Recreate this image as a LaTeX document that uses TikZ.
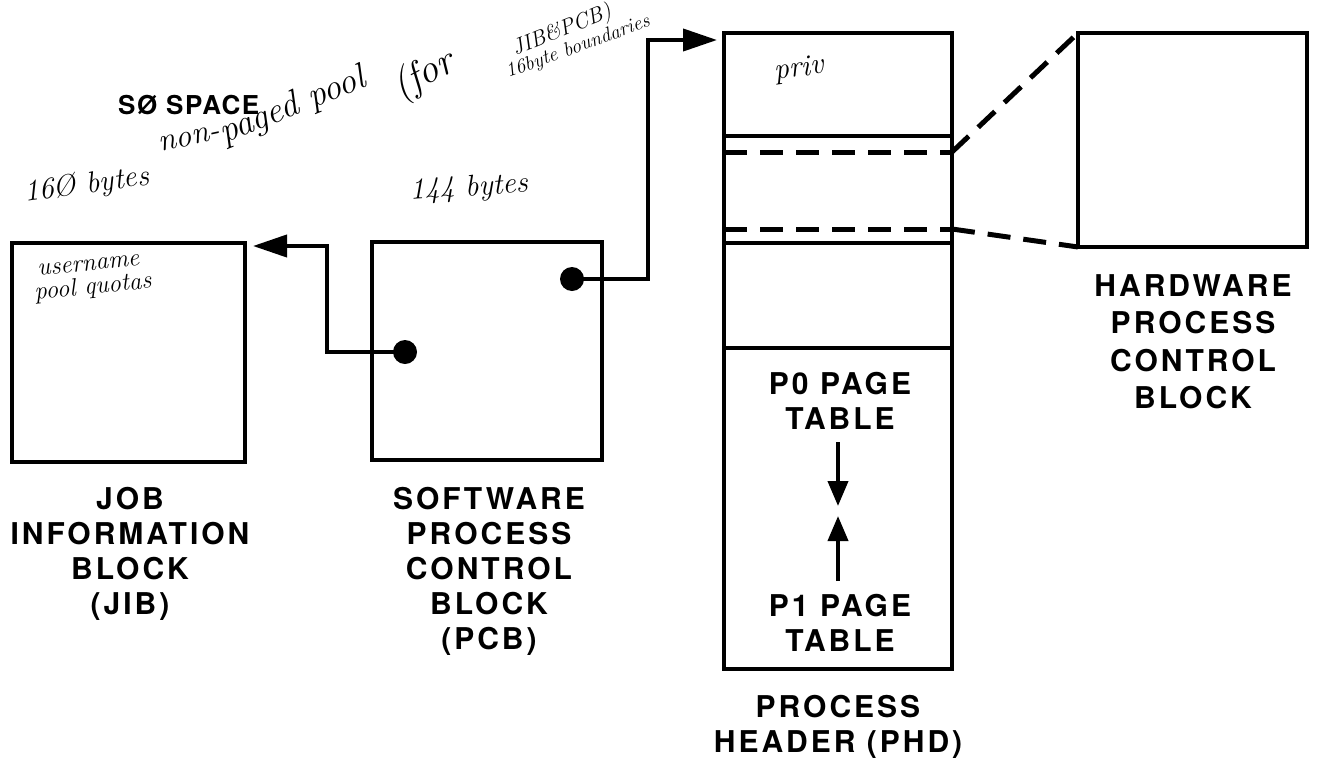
\documentclass[tikz,border=0pt]{standalone}
\usepackage{fontspec}
\newfontfamily\labelfont[LetterSpace=10]{TeX Gyre Heros}
\newfontfamily\titlefont[LetterSpace=6]{TeX Gyre Heros}
\usetikzlibrary{arrows.meta}
\tikzset{
  box/.style={draw, line width=4pt, rectangle, inner sep=0pt, outer sep=0pt},
  wall/.style={line width=4pt},
  dashline/.style={line width=5pt, dash pattern=on 23pt off 13pt},
  conn/.style={line width=4pt, line join=miter},
  bigtip/.style={-{Triangle[length=34pt,width=22pt]}},
  smalltip/.style={-{Triangle[length=25pt,width=20pt]}},
  dot/.style={circle, fill=black, inner sep=0pt, minimum size=24pt},
  lab/.style={font=\labelfont\fontsize{30}{35}\selectfont\bfseries, align=center, inner sep=0pt},
  labwide/.style={font=\labelfont\fontsize{30}{37.5}\selectfont\bfseries, align=center, inner sep=0pt},
  hand/.style={inner sep=0pt, anchor=base west}
}
\begin{document}
\begin{tikzpicture}[x=1pt,y=-1pt]
\fill[white] (0,0) rectangle (1319,763);
\useasboundingbox (0,0) rectangle (1319,763);

% boxes
\node[box, minimum width=233pt, minimum height=219pt] (jib) at (128.5,352.5) {};
\node[box, minimum width=230pt, minimum height=218pt] (pcb) at (487,351) {};
\node[box, minimum width=228pt, minimum height=636pt] (phd) at (838,351) {};
\node[box, minimum width=229pt, minimum height=214pt] (hw) at (1192.5,140) {};

% PHD internal divisions
\draw[wall] (phd.north west) ++(0,103) -- ++(228,0);
\draw[wall] (phd.north west) ++(0,210) -- ++(228,0);
\draw[wall] (phd.north west) ++(0,315) -- ++(228,0);
\draw[dashline] (phd.north west) ++(0,119) coordinate (da) -- ++(228,0) coordinate (db);
\draw[dashline] (phd.north west) ++(0,196) coordinate (dc) -- ++(228,0) coordinate (dd);
\draw[dashline] (db) -- (hw.north west);
\draw[dashline] (dd) -- (hw.south west);

% pointers
\node[dot] (d1) at (405,352) {};
\node[dot] (d2) at (572,279) {};
\coordinate (b1) at (327,352);
\coordinate (jibin) at (253,246);
\coordinate (b2) at (648,279);
\coordinate (phdin) at (717,40);
\draw[conn, bigtip] (d1.center) -- (b1) |- (jibin);
\draw[conn, bigtip] (d2.center) -- (b2) |- (phdin);

% page table arrows
\coordinate (a1) at (838,442);
\coordinate (a2) at (838,506);
\coordinate (a3) at (838,581);
\coordinate (a4) at (838,516);
\draw[conn, smalltip] (a1) -- (a2);
\draw[conn, smalltip] (a3) -- (a4);

% printed labels
\node[lab, anchor=north] (jibl) at (130,487) {JOB\\INFORMATION\\BLOCK\\(JIB)};
\node[lab, anchor=north] (pcbl) at (489,487) {SOFTWARE\\PROCESS\\CONTROL\\BLOCK\\(PCB)};
\node[labwide, anchor=north] (hwl) at (1193,274) {HARDWARE\\PROCESS\\CONTROL\\BLOCK};
\node[lab, anchor=north] (p0l) at (840,372) {P0 PAGE\\TABLE};
\node[lab, anchor=north] (p1l) at (840,594) {P1 PAGE\\TABLE};
\node[lab, anchor=north] (phdl) at (838,695) {PROCESS\\HEADER (PHD)};
\node[inner sep=0pt, anchor=west, font=\titlefont\fontsize{26}{30}\selectfont\bfseries] (s0) at (118,105) {SØ SPACE};

% handwritten notes
\node[hand, font=\itshape\fontsize{32}{38}\selectfont, rotate=12] (h1) at (160,152) {non-};
\node[hand, font=\itshape\fontsize{36}{42}\selectfont, rotate=22] (h1b) at (224,144) {paged pool};
\node[hand, font=\itshape\fontsize{40}{46}\selectfont, rotate=28] (h2) at (400,100) {(for};
\node[hand, font=\itshape\fontsize{22}{26}\selectfont, rotate=22] (h3) at (515,56) {JIB\&PCB)};
\node[hand, font=\itshape\fontsize{20}{24}\selectfont, rotate=20] (h4) at (508,78) {16byte boundaries};
\node[hand, font=\itshape\fontsize{30}{34}\selectfont, rotate=8] (h5) at (25,202) {16Ø bytes};
\node[hand, font=\itshape\fontsize{30}{34}\selectfont, rotate=4] (h6) at (410,200) {144 bytes};
\node[hand, font=\itshape\fontsize{25}{28}\selectfont, rotate=6] (h7) at (38,276) {username};
\node[hand, font=\itshape\fontsize{25}{28}\selectfont, rotate=6] (h8) at (35,300) {pool quotas};
\node[hand, font=\itshape\fontsize{30}{34}\selectfont, rotate=8] (h9) at (775,80) {priv};
\end{tikzpicture}
\end{document}
